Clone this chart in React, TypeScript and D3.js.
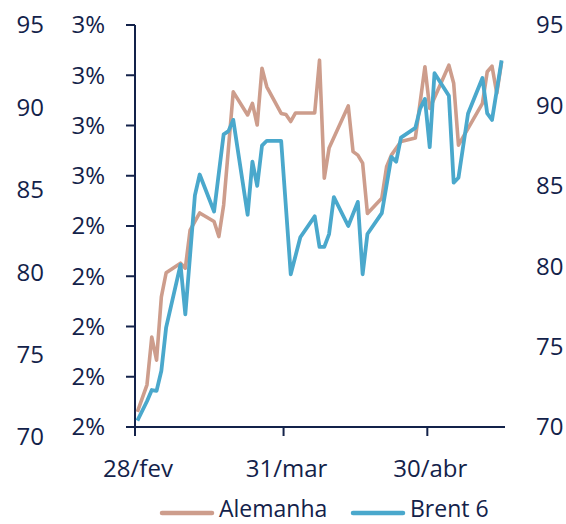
import React from "react";
import * as d3 from "d3";

// ---- Data ----
const alemanhaDates = [
  "2022-02-28","2022-03-02","2022-03-03","2022-03-04","2022-03-05","2022-03-06","2022-03-09","2022-03-10",
  "2022-03-11","2022-03-13","2022-03-16","2022-03-17","2022-03-18","2022-03-20","2022-03-23","2022-03-24",
  "2022-03-25","2022-03-26","2022-03-27","2022-03-30","2022-03-31","2022-04-01","2022-04-02","2022-04-06",
  "2022-04-07","2022-04-08","2022-04-09","2022-04-13","2022-04-14","2022-04-15","2022-04-16","2022-04-17",
  "2022-04-20","2022-04-21","2022-04-22","2022-04-24","2022-04-27","2022-04-29","2022-04-30","2022-05-04",
  "2022-05-05","2022-05-06","2022-05-11","2022-05-12","2022-05-13","2022-05-14","2022-05-15",
];
const alemanhaValues = [
  2.03, 2.084, 2.179, 2.133, 2.259, 2.307, 2.326, 2.316,
  2.392, 2.426, 2.409, 2.379, 2.442, 2.667, 2.621, 2.644,
  2.601, 2.714, 2.677, 2.624, 2.622, 2.608, 2.625, 2.625,
  2.73, 2.495, 2.555, 2.639, 2.548, 2.541, 2.525, 2.425,
  2.455, 2.518, 2.541, 2.568, 2.575, 2.717, 2.634, 2.72,
  2.684, 2.561, 2.644, 2.707, 2.718, 2.664, 2.727,
];

const brentDates = [
  "2022-02-28","2022-03-02","2022-03-03","2022-03-04","2022-03-05","2022-03-06","2022-03-09","2022-03-10",
  "2022-03-12","2022-03-13","2022-03-16","2022-03-18","2022-03-19","2022-03-20","2022-03-23","2022-03-24",
  "2022-03-25","2022-03-26","2022-03-27","2022-03-30","2022-04-01","2022-04-03","2022-04-06","2022-04-07",
  "2022-04-08","2022-04-09","2022-04-10","2022-04-13","2022-04-15","2022-04-16","2022-04-17","2022-04-20",
  "2022-04-22","2022-04-23","2022-04-24","2022-04-27","2022-04-28","2022-04-29","2022-04-30","2022-05-01",
  "2022-05-04","2022-05-05","2022-05-06","2022-05-08","2022-05-11","2022-05-12","2022-05-13","2022-05-15",
];
const brentValues = [
  70.4, 71.6, 72.3, 72.25, 73.5, 76.2, 80.1, 77.0,
  84.4, 85.7, 83.4, 88.2, 88.4, 89.1, 83.2, 86.5,
  85.0, 87.5, 87.8, 87.8, 79.5, 81.8, 83.1, 81.2,
  81.2, 82.0, 84.3, 82.5, 84.0, 79.5, 82.0, 83.3,
  86.8, 86.5, 88.0, 88.6, 89.8, 90.4, 87.4, 92.0,
  90.6, 85.2, 85.5, 89.5, 91.7, 89.5, 89.1, 92.8,
];

const xTickDates = ["2022-02-28", "2022-03-31", "2022-04-30"];
const xTickLabels = ["28/fev", "31/mar", "30/abr"];
const pctTicks = [2.0, 2.1, 2.2, 2.3, 2.4, 2.5, 2.6, 2.7, 2.8];
const priceTicks = [70, 75, 80, 85, 90, 95];
const seriesNames = ["Alemanha", "Brent 6"];

const NAVY = "#13224a";
const TAN = "#cd9d8c";
const BLUE = "#4aa8cc";
const FONT = "'Open Sans', 'Noto Sans', sans-serif";

export default function App() {
  const W = 566, H = 524;
  const parse = d3.utcParse("%Y-%m-%d");
  const half = 12 * 3600 * 1000;

  const x = d3.scaleUtc()
    .domain([parse("2022-02-28")!, parse("2022-05-16")!])
    .range([135, 504]);
  const yPct = d3.scaleLinear().domain([2.0, 2.8]).range([427, 25]);
  const yPrice = d3.scaleLinear().domain([70, 95]).range([427, 25]);
  const yPriceLeft = d3.scaleLinear().domain([70, 95]).range([437, 25]);

  const alData = alemanhaDates.map((d, i) => ({ t: new Date(+parse(d)! + half), v: alemanhaValues[i] }));
  const brData = brentDates.map((d, i) => ({ t: new Date(+parse(d)! + half), v: brentValues[i] }));

  const lineAl = d3.line<{ t: Date; v: number }>().x(d => x(d.t)).y(d => yPct(d.v));
  const lineBr = d3.line<{ t: Date; v: number }>().x(d => x(d.t)).y(d => yPrice(d.v));

  const fmtPct = (v: number) => `${Math.round(v + 1e-9)}%`;

  return (
    <svg width={W} height={H} style={{ position: "absolute", left: 0, top: 0, background: "#fff" }}
      fontFamily={FONT}>
      {/* outer left labels */}
      {priceTicks.map(t => (
        <text key={"l" + t} x={44} y={yPriceLeft(t)} dy="0.35em" textAnchor="end" fontSize={24} fill={NAVY}>{t}</text>
      ))}
      {/* percent axis */}
      {pctTicks.map(t => (
        <g key={"p" + t}>
          <line x1={126} x2={135} y1={yPct(t)} y2={yPct(t)} stroke={NAVY} strokeWidth={2} />
          <text x={105} y={yPct(t)} dy="0.35em" textAnchor="end" fontSize={24} fill={NAVY}>{fmtPct(t)}</text>
        </g>
      ))}
      <line x1={135} x2={135} y1={yPct(2.8)} y2={yPct(2.0) + 1} stroke={NAVY} strokeWidth={2} />
      {/* right labels */}
      {priceTicks.map(t => (
        <text key={"r" + t} x={536} y={yPrice(t)} dy="0.35em" textAnchor="start" fontSize={24} fill={NAVY}>{t}</text>
      ))}
      {/* x axis */}
      <line x1={134} x2={505} y1={427} y2={427} stroke={NAVY} strokeWidth={2} />
      {xTickDates.map((d, i) => {
        const xx = x(parse(d)!);
        return (
          <g key={d}>
            <line x1={xx} x2={xx} y1={427} y2={436} stroke={NAVY} strokeWidth={2} />
            <text x={xx + 3} y={477} textAnchor="middle" fontSize={24} fill={NAVY}>{xTickLabels[i]}</text>
          </g>
        );
      })}
      {/* lines */}
      <path d={lineAl(alData) || ""} fill="none" stroke={TAN} strokeWidth={3.6} strokeLinejoin="round" />
      <path d={lineBr(brData) || ""} fill="none" stroke={BLUE} strokeWidth={3.8} strokeLinejoin="round" />
      {/* legend */}
      <line x1={162} x2={212} y1={513} y2={513} stroke={TAN} strokeWidth={4.5} strokeLinecap="round" />
      <text x={219} y={517} fontSize={23} fill={NAVY}>{seriesNames[0]}</text>
      <line x1={353} x2={403} y1={513} y2={513} stroke={BLUE} strokeWidth={4.5} strokeLinecap="round" />
      <text x={410} y={517} fontSize={23} fill={NAVY}>{seriesNames[1]}</text>
    </svg>
  );
}
